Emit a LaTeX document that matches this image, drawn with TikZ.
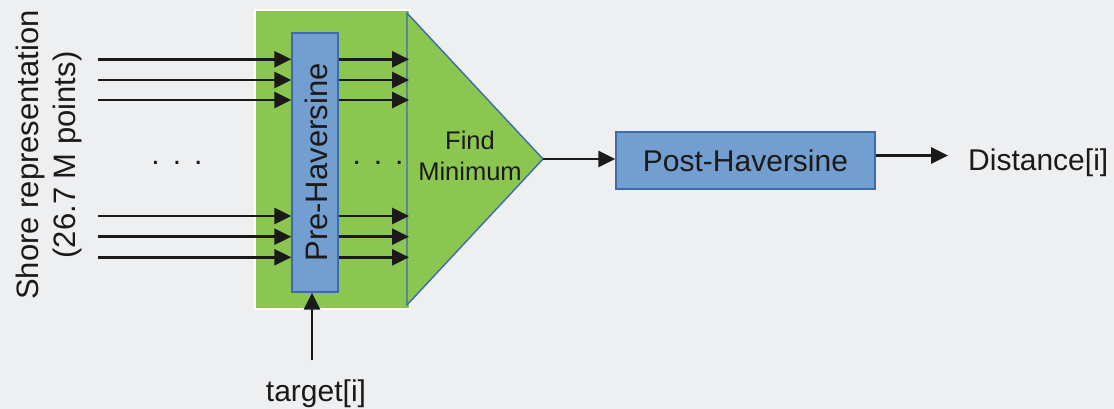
\documentclass[tikz,border=0pt]{standalone}
\usepackage{fontspec}
\setmainfont{Liberation Sans}
\usetikzlibrary{arrows.meta}
\definecolor{bgc}{RGB}{238,239,241}
\definecolor{grn}{RGB}{139,198,80}
\definecolor{bluefill}{RGB}{114,159,207}
\definecolor{blueline}{RGB}{62,106,176}
\definecolor{ink}{RGB}{28,25,26}
\begin{document}
\begin{tikzpicture}[x=1pt,y=-1pt,
  flow/.style={draw=ink, line width=2.7pt, -{Triangle[length=17pt,width=16pt]}},
  unit/.style={draw=blueline, line width=1.4pt, fill=bluefill, inner sep=0pt},
  lbl/.style={text=ink, inner sep=0pt},
  big/.style={font=\fontsize{30}{36}\selectfont},
  ]
% canvas
\fill[bgc] (0,0) rectangle (1114,409);
\useasboundingbox (0,0) rectangle (1114,409);

% green stage holding the pre-processing unit
\node[draw=white, line width=1.8pt, fill=grn, minimum width=155pt,
      minimum height=299pt, inner sep=0pt] (stage) at (332.5,159.5) {};
\node[unit, minimum width=46pt, minimum height=259pt] (pre) at (315,162.5) {};
\node[lbl, rotate=90, font=\fontsize{31}{37}\selectfont] (pretext) at (316,162.5) {Pre-Haversine};

% reduction triangle
\coordinate (ftop) at (407,13);
\coordinate (fbot) at (407,305);
\coordinate (ftip) at (543,159);
\coordinate (fin) at ([xshift=2pt]ftop);
\filldraw[fill=grn, draw=blueline, line width=1.4pt] (ftop) -- (ftip) -- (fbot) -- cycle;
\node[lbl, align=center, font=\fontsize{25.5}{31.7}\selectfont] (findmin) at (470,156) {Find\\Minimum};

% post-processing and output
\node[unit, big, text=ink, minimum width=259pt, minimum height=57pt] (post) at (745.5,160.5) {Post-Haversine};
\node[lbl, big, anchor=base west] (dist) at (968,171) {Distance[i]};
\coordinate (distin) at ([xshift=-20pt]dist.west);
\coordinate (postout) at ([yshift=5pt]post.east);
\draw[flow] (ftip) -- (ftip -| post.west);
\draw[flow] (postout) -- (postout -| distin);

% input streams
\foreach \k/\yy in {1/59.3,2/80,3/100,4/216,5/236.7,6/257.3} {
  \coordinate (in\k) at (98,\yy);
  \draw[flow] (in\k) -- (in\k -| pre.west);
  \draw[flow] (pre.east |- in\k) -- (in\k -| fin);
}
\node[lbl, big, anchor=base] (dotsin) at (177,164.5) {.\hspace{13pt}.\hspace{13pt}.};
\node[lbl, big, anchor=base] (dotsmid) at (378,164.5) {.\hspace{13pt}.\hspace{13pt}.};

% query point
\coordinate (tgt) at (312,360);
\draw[flow] (tgt) -- (tgt |- pre.south);
\node[lbl, big, anchor=base] (target) at (316,401) {target[i]};

% input label
\node[lbl, rotate=90, align=center, font=\fontsize{31}{37}\selectfont] (shore) at (49,155)
  {Shore representation\\(26.7 M points)};
\end{tikzpicture}
\end{document}
